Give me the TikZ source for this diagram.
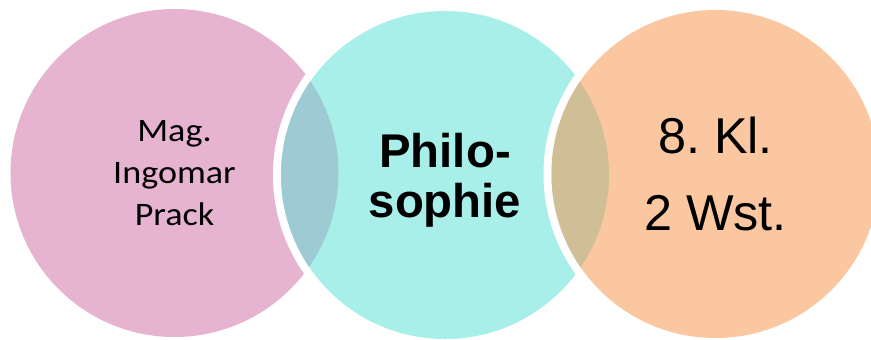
\documentclass[tikz,border=0pt]{standalone}
\usepackage{fontspec}
\setmainfont{Liberation Sans}
\newfontfamily\calibrifont[FakeStretch=1.1]{Carlito}
\usepackage{xcolor}
\usepackage{tikz}
\usetikzlibrary{calc}
\definecolor{pinkfill}{HTML}{E6B4D0}
\definecolor{cyanfill}{HTML}{A8EFE9}
\definecolor{orangefill}{HTML}{FAC7A0}
\definecolor{overlapA}{HTML}{9ECBD3}
\definecolor{overlapB}{HTML}{D0BE96}
\tikzset{
  disc/.style={
    circle, inner sep=0pt, outer sep=0pt,
    minimum size=9.84cm, align=center, text=black
  },
  halo/.style={fill=white},
  teacher/.style={disc, fill=pinkfill,
    font=\calibrifont\frenchspacing\fontsize{28pt}{35.8pt}\selectfont},
  subject/.style={disc, fill=cyanfill, text depth=0pt,
    font=\bfseries\fontsize{40.4pt}{42.5pt}\selectfont},
  grade/.style={disc, fill=orangefill,
    font=\frenchspacing\fontsize{43pt}{65.7pt}\selectfont},
}

\begin{document}
\begin{tikzpicture}[x=0.03cm, y=-0.03cm]
  \useasboundingbox (0,0) rectangle (871,340);

  \coordinate (cPrack) at (174.5,173);
  \coordinate (cPhilo) at (445,175);
  \coordinate (cKlasse) at (715.5,174);

  \node[teacher] (prack) at (cPrack) {Mag.\\Ingomar\\Prack};

  \fill[halo] (cPhilo) circle[radius=5.16cm];
  \node[subject] (philo) at (cPhilo) {Philo-\\sophie};
  \begin{scope}
    \clip (prack.center) circle[radius=4.92cm];
    \fill[overlapA] (philo.center) circle[radius=4.92cm];
  \end{scope}

  \fill[halo] (cKlasse) circle[radius=5.16cm];
  \node[grade] (klasse) at (cKlasse) {8. Kl.\\2 Wst.};
  \begin{scope}
    \clip (philo.center) circle[radius=4.92cm];
    \fill[overlapB] (klasse.center) circle[radius=4.92cm];
  \end{scope}
\end{tikzpicture}
\end{document}
